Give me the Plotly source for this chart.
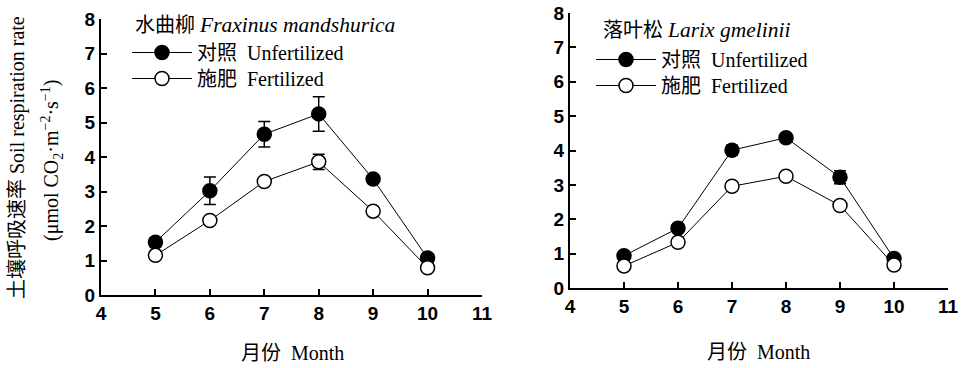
import plotly.graph_objects as go

months = [5, 6, 7, 8, 9, 10]

# 水曲柳 Fraxinus mandshurica
fm_unfert = [1.53, 3.02, 4.66, 5.25, 3.36, 1.07]
fm_unfert_err = [0.13, 0.40, 0.37, 0.50, 0.08, 0.06]
fm_fert = [1.15, 2.16, 3.29, 3.86, 2.43, 0.79]
fm_fert_err = [0.10, 0.10, 0.10, 0.22, 0.10, 0.05]

# 落叶松 Larix gmelinii
lg_unfert = [0.94, 1.74, 4.01, 4.37, 3.22, 0.86]
lg_unfert_err = [0.05, 0.10, 0.14, 0.05, 0.19, 0.05]
lg_fert = [0.64, 1.33, 2.96, 3.25, 2.40, 0.67]
lg_fert_err = [0.05, 0.05, 0.05, 0.08, 0.12, 0.08]

x_ticks = [4, 5, 6, 7, 8, 9, 10, 11]
y_ticks = [0, 1, 2, 3, 4, 5, 6, 7, 8]

name_unfert = "对照  Unfertilized"
name_fert = "施肥  Fertilized"

W, H = 961, 368

fig = go.Figure()

serif = "Liberation Serif, Times New Roman, Noto Sans CJK SC, serif"
sans = "Liberation Sans, Arial, sans-serif"


def add_series(x, y, err, filled, xa, ya, leg):
    fig.add_trace(go.Scatter(
        x=x, y=y, mode="lines+markers",
        name=name_unfert if filled else name_fert,
        xaxis=xa, yaxis=ya, legend=leg,
        line=dict(color="black", width=1),
        marker=dict(size=14, color="black" if filled else "white",
                    line=dict(color="black", width=1.5), symbol="circle"),
        error_y=dict(type="data", array=err, visible=True, color="black",
                     thickness=1.5, width=6),
        cliponaxis=False,
    ))


add_series(months, fm_unfert, fm_unfert_err, True, "x", "y", "legend")
add_series(months, fm_fert, fm_fert_err, False, "x", "y", "legend2")
add_series(months, lg_unfert, lg_unfert_err, True, "x2", "y2", "legend3")
add_series(months, lg_fert, lg_fert_err, False, "x2", "y2", "legend4")

axis_common = dict(
    showline=True, linecolor="black", linewidth=2, mirror=False,
    ticks="inside", ticklen=6, tickwidth=1.5, tickcolor="black",
    showgrid=False, zeroline=False, automargin=False,
    tickfont=dict(family=sans, size=19, color="black", weight="bold"),
)


def legend_at(px, py):
    return dict(x=px / W, y=1 - py / H, xanchor="left", yanchor="top",
                bgcolor="rgba(0,0,0,0)", borderwidth=0,
                font=dict(family=serif, size=20, color="black"),
                itemwidth=60, tracegroupgap=0)


fig.update_layout(
    template="none",
    width=W, height=H,
    margin=dict(l=0, r=0, t=0, b=0, autoexpand=False),
    paper_bgcolor="white", plot_bgcolor="white",
    showlegend=True,
    xaxis=dict(domain=[101 / W, 482 / W], range=[4, 11], tickvals=x_ticks,
               anchor="y", **axis_common),
    yaxis=dict(domain=[1 - 295 / H, 1 - 19 / H], range=[0, 8], tickvals=y_ticks,
               anchor="x", **axis_common),
    xaxis2=dict(domain=[570 / W, 948 / W], range=[4, 11], tickvals=x_ticks,
                anchor="y2", **axis_common),
    yaxis2=dict(domain=[1 - 288 / H, 1 - 13 / H], range=[0, 8], tickvals=y_ticks,
                anchor="x2", **axis_common),
    legend=legend_at(127, 33),
    legend2=legend_at(127, 59),
    legend3=legend_at(591, 40),
    legend4=legend_at(591, 66),
)

ann_font = dict(family=serif, size=20, color="black")
fig.add_annotation(xref="paper", yref="paper", x=133 / W, y=1 - 25 / H,
                   xanchor="left", yanchor="middle", showarrow=False,
                   text="水曲柳 <i><span style='font-size:21.5px'>Fraxinus mandshurica</span></i>",
                   font=ann_font)
fig.add_annotation(xref="paper", yref="paper", x=601 / W, y=1 - 30 / H,
                   xanchor="left", yanchor="middle", showarrow=False,
                   text="落叶松 <i><span style='font-size:21.5px'>Larix gmelinii</span></i>",
                   font=ann_font)
fig.add_annotation(xref="paper", yref="paper", x=292 / W, y=1 - 353 / H,
                   xanchor="center", yanchor="middle", showarrow=False,
                   text="月份  Month", font=ann_font)
fig.add_annotation(xref="paper", yref="paper", x=758 / W, y=1 - 352 / H,
                   xanchor="center", yanchor="middle", showarrow=False,
                   text="月份  Month", font=ann_font)
fig.add_annotation(xref="paper", yref="paper", x=17 / W, y=1 - 158 / H,
                   xanchor="center", yanchor="middle", showarrow=False, textangle=-90,
                   text="土壤呼吸速率 Soil respiration rate", font=ann_font)
fig.add_annotation(xref="paper", yref="paper", x=52 / W, y=1 - 161 / H,
                   xanchor="center", yanchor="middle", showarrow=False, textangle=-90,
                   text="(μmol CO<sub>2</sub>·m<sup>−2</sup>·s<sup>−1</sup>)", font=ann_font)

fig.write_html("out.html",
               config={"displayModeBar": False},
               post_script="document.body.style.margin='0';document.body.style.overflow='hidden';")
